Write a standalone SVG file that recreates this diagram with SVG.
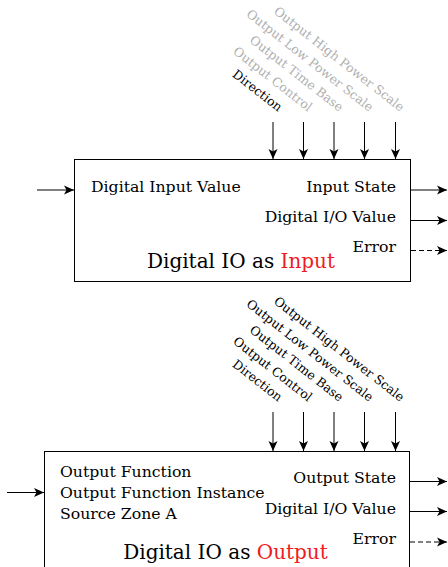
<svg xmlns="http://www.w3.org/2000/svg" width="448" height="567" viewBox="0 0 448 567">
<defs>
<marker id="ah" viewBox="0 0 10 10" refX="10" refY="5" markerWidth="10" markerHeight="10" markerUnits="userSpaceOnUse" orient="auto">
<path d="M0,0.5 L10,5 L0,9.5 L2.5,5 Z" fill="#000"/>
</marker>
<style>
text{font-family:"DejaVu Serif","Liberation Serif",serif;font-size:15.7px;fill:#000}
.r{text-anchor:end}
.t{font-size:20px;text-anchor:middle}
.red{fill:#ed1c24}
.g{fill:#b0b0b0}
.lab{font-size:12.5px;text-anchor:end}
.box{fill:#fff;stroke:#000;stroke-width:1}
.c{stroke:#000;stroke-width:1;fill:none;marker-end:url(#ah)}
.d{stroke-dasharray:5,3}
</style>
</defs>
<g id="input-node">
<rect class="box" x="74.5" y="159.5" width="336" height="122"/>
<text x="91" y="192">Digital Input Value</text>
<text class="r" x="396" y="192">Input State</text>
<text class="r" x="396" y="222">Digital I/O Value</text>
<text class="r" x="396" y="252">Error</text>
<text class="t" x="241" y="268">Digital IO as <tspan class="red">Input</tspan></text>
<text class="lab" transform="translate(278,112) rotate(38)">Direction</text>
<text class="lab g" transform="translate(308,112) rotate(38)">Output Control</text>
<text class="lab g" transform="translate(339,112) rotate(38)">Output Time Base</text>
<text class="lab g" transform="translate(369,112) rotate(38)">Output Low Power Scale</text>
<text class="lab g" transform="translate(400,112) rotate(38)">Output High Power Scale</text>
</g>
<g id="output-node">
<rect class="box" x="44.5" y="451.5" width="365" height="130"/>
<text x="60" y="477">Output Function</text>
<text x="60" y="498">Output Function Instance</text>
<text x="60" y="519">Source Zone A</text>
<text class="r" x="396" y="483">Output State</text>
<text class="r" x="396" y="514">Digital I/O Value</text>
<text class="r" x="396" y="544">Error</text>
<text class="t" x="225.5" y="559">Digital IO as <tspan class="red">Output</tspan></text>
<text class="lab" transform="translate(278,402) rotate(38)">Direction</text>
<text class="lab" transform="translate(308,402) rotate(38)">Output Control</text>
<text class="lab" transform="translate(339,402) rotate(38)">Output Time Base</text>
<text class="lab" transform="translate(369,402) rotate(38)">Output Low Power Scale</text>
<text class="lab" transform="translate(400,402) rotate(38)">Output High Power Scale</text>
</g>
<g id="connectors">
<line class="c" x1="37" y1="190" x2="74" y2="190"/>
<line class="c" x1="411" y1="190" x2="447" y2="190"/>
<line class="c" x1="411" y1="220.5" x2="447" y2="220.5"/>
<line class="c d" x1="411" y1="250.5" x2="447" y2="250.5"/>
<line class="c" x1="273" y1="122" x2="273" y2="159"/>
<line class="c" x1="303.5" y1="122" x2="303.5" y2="159"/>
<line class="c" x1="334" y1="122" x2="334" y2="159"/>
<line class="c" x1="364.5" y1="122" x2="364.5" y2="159"/>
<line class="c" x1="395.5" y1="122" x2="395.5" y2="159"/>
<line class="c" x1="7" y1="492.5" x2="44" y2="492.5"/>
<line class="c" x1="410" y1="481.5" x2="447" y2="481.5"/>
<line class="c" x1="410" y1="511.5" x2="447" y2="511.5"/>
<line class="c d" x1="410" y1="542" x2="447" y2="542"/>
<line class="c" x1="273" y1="412" x2="273" y2="451"/>
<line class="c" x1="303.5" y1="412" x2="303.5" y2="451"/>
<line class="c" x1="334" y1="412" x2="334" y2="451"/>
<line class="c" x1="364.5" y1="412" x2="364.5" y2="451"/>
<line class="c" x1="395.5" y1="412" x2="395.5" y2="451"/>
</g>
</svg>
